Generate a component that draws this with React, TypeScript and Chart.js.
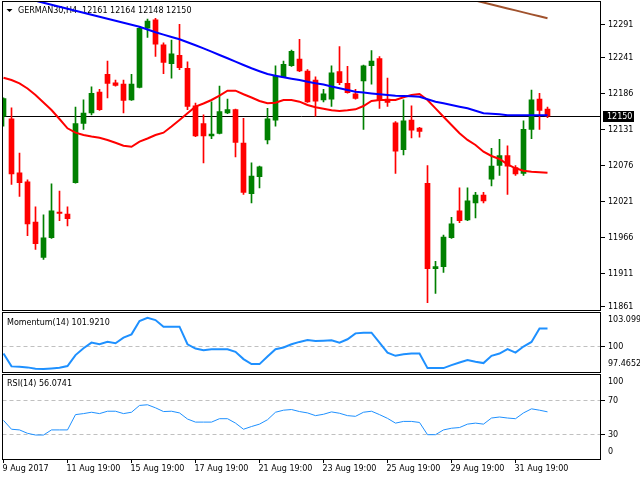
import React, { useEffect, useRef } from "react";
import { Chart, registerables } from "chart.js";

Chart.register(...registerables);

// ---------- data ----------
const OPEN = [12150, 12146, 12064, 12050, 11989, 11935, 11965, 12004, 12001, 12049, 12139, 12155, 12187, 12214, 12201, 12199, 12175, 12194, 12284, 12297, 12259, 12230, 12243, 12223, 12166, 12139, 12120, 12124, 12155, 12160, 12109, 12032, 12058, 12114, 12144, 12210, 12227, 12237, 12219, 12205, 12175, 12176, 12218, 12200, 12184, 12204, 12227, 12238, 12176, 12140, 12099, 12144, 12132, 12048, 11918, 11921, 11965, 12006, 11992, 12018, 12030, 12054, 12075, 12090, 12072, 12063, 12130, 12176, 12161];
const HIGH = [12178, 12163, 12094, 12053, 12012, 12000, 12047, 12036, 12012, 12164, 12175, 12195, 12191, 12234, 12205, 12205, 12214, 12286, 12298, 12299, 12262, 12266, 12290, 12233, 12170, 12152, 12172, 12196, 12176, 12161, 12147, 12079, 12074, 12162, 12227, 12234, 12251, 12267, 12221, 12210, 12191, 12227, 12256, 12226, 12191, 12228, 12250, 12241, 12208, 12142, 12175, 12166, 12133, 12075, 11929, 11969, 11996, 12041, 12041, 12034, 12034, 12101, 12115, 12105, 12075, 12143, 12190, 12185, 12164];
const LOW = [12135, 12046, 12028, 11968, 11947, 11932, 11964, 11991, 11983, 12048, 12130, 12152, 12159, 12178, 12196, 12155, 12174, 12193, 12270, 12241, 12215, 12208, 12221, 12160, 12119, 12079, 12116, 12123, 12154, 12088, 12031, 12018, 12041, 12108, 12135, 12209, 12226, 12218, 12171, 12150, 12172, 12165, 12198, 12185, 12176, 12130, 12199, 12162, 12165, 12063, 12091, 12117, 12118, 11866, 11880, 11912, 11964, 11988, 11991, 11995, 12018, 12044, 12060, 12031, 12060, 12060, 12116, 12130, 12148];
const CLOSE = [12177, 12062, 12049, 11986, 11956, 11965, 12006, 12002, 11994, 12139, 12155, 12185, 12160, 12200, 12197, 12174, 12199, 12284, 12295, 12260, 12232, 12245, 12224, 12165, 12120, 12120, 12123, 12157, 12160, 12110, 12034, 12059, 12073, 12146, 12211, 12229, 12249, 12219, 12172, 12173, 12184, 12216, 12201, 12186, 12177, 12227, 12234, 12175, 12171, 12097, 12143, 12129, 12127, 11918, 11921, 11966, 11986, 11991, 12021, 12030, 12021, 12074, 12090, 12074, 12062, 12130, 12175, 12159, 12150];

const MA_RED = [12208.7, 12205.2, 12200.2, 12192.3, 12182.4, 12171.0, 12159.5, 12145.8, 12131.7, 12125.0, 12121.5, 12119.2, 12117.4, 12113.9, 12109.7, 12105.2, 12103.6, 12111.3, 12116.1, 12121.5, 12125.0, 12134.4, 12144.3, 12154.5, 12164.6, 12169.4, 12174.8, 12181.6, 12189.0, 12189.0, 12183.5, 12178.6, 12173.3, 12169.8, 12170.7, 12174.8, 12174.8, 12172.2, 12167.2, 12163.7, 12161.5, 12159.1, 12158.0, 12159.1, 12160.6, 12165.6, 12173.3, 12174.8, 12174.8, 12174.8, 12178.9, 12182.4, 12183.9, 12174.8, 12162.1, 12149.3, 12136.7, 12124.1, 12113.9, 12106.2, 12096.0, 12089.5, 12084.9, 12076.8, 12070.7, 12067.1, 12065.6, 12064.7, 12064.0];
const MA_BLUE = [12338.2, 12335.2, 12332.1, 12329.1, 12326.0, 12323.0, 12319.9, 12316.9, 12313.8, 12310.8, 12307.8, 12304.7, 12301.7, 12298.6, 12295.6, 12292.5, 12289.5, 12286.4, 12282.2, 12277.9, 12274.4, 12270.7, 12267.2, 12262.7, 12258.1, 12253.5, 12248.5, 12243.3, 12238.3, 12233.3, 12228.1, 12223.1, 12218.6, 12214.4, 12211.8, 12209.4, 12207.2, 12205.2, 12202.7, 12200.2, 12198.4, 12195.3, 12192.6, 12190.0, 12187.4, 12186.2, 12184.8, 12183.5, 12182.4, 12181.3, 12180.9, 12180.3, 12179.8, 12176.0, 12172.2, 12169.8, 12167.2, 12164.6, 12162.1, 12158.3, 12154.5, 12153.8, 12153.0, 12151.5, 12151.5, 12151.5, 12151.5, 12151.5, 12151.5];
const MA_BROWN_START = 57;
const MA_BROWN = [12332.3, 12329.3, 12326.2, 12323.3, 12320.2, 12317.2, 12314.2, 12311.3, 12308.2, 12305.2, 12302.3, 12299.2];

const MOMENTUM = [99.17, 97.76, 97.72, 97.65, 97.5, 97.47, 97.54, 97.61, 97.8, 99.0, 99.75, 100.37, 100.2, 100.47, 100.3, 100.92, 101.28, 102.74, 103.1, 102.85, 102.12, 102.12, 102.12, 100.19, 99.72, 99.54, 99.65, 99.65, 99.65, 99.36, 98.56, 98.01, 98.01, 98.85, 99.65, 99.83, 100.19, 100.45, 100.66, 100.56, 100.59, 100.63, 100.37, 100.74, 101.39, 101.46, 101.46, 100.37, 99.28, 98.92, 99.1, 99.17, 99.17, 97.57, 97.57, 97.57, 97.9, 98.19, 98.45, 98.27, 98.12, 98.92, 99.17, 99.65, 99.28, 99.94, 100.45, 101.92, 101.92];
const RSI = [46, 35.6, 34.8, 30.8, 28.8, 28.8, 34.8, 34.8, 34.8, 52.8, 54, 55.6, 54, 56.8, 56.8, 54, 55.6, 63.6, 64.4, 60.8, 56.4, 56.8, 54.8, 47.6, 44, 44, 44, 48, 48, 42.8, 35.6, 38.8, 41.6, 46.8, 55.6, 58, 58.8, 56.4, 54.8, 51.6, 53.2, 56, 54.4, 51.6, 50.8, 55.6, 56.8, 52.8, 48.4, 42.8, 44.8, 44.8, 43.6, 29.2, 29.2, 34.8, 36.8, 37.6, 41.6, 42.8, 41.6, 48.8, 50, 48.8, 48, 54.8, 59.6, 58, 56.07];

const PRICE_TICKS = [12291, 12241, 12186, 12131, 12076, 12021, 11966, 11911, 11861];
const CURRENT_PRICE = 12150;
const TITLE = "GERMAN30,H4  12161 12164 12148 12150";
const MOM_TITLE = "Momentum(14) 101.9210";
const MOM_MAX_LABEL = "103.0996";
const MOM_MIN_LABEL = "97.4652";
const MOM_LEVEL = 100;
const RSI_TITLE = "RSI(14) 56.0741";
const RSI_LEVELS = [70, 30];
const TIME_LABELS = ["9 Aug 2017", "11 Aug 19:00", "15 Aug 19:00", "17 Aug 19:00", "21 Aug 19:00", "23 Aug 19:00", "25 Aug 19:00", "29 Aug 19:00", "31 Aug 19:00"];
const TIME_LABEL_INDEX = [0, 8, 16, 24, 32, 40, 48, 56, 64];

// ---------- styling ----------
const FONT = "8px 'DejaVu Sans'";
const BULL = "#008000";
const BEAR = "#ff0000";
const X_MIN = -0.125;
const X_MAX = 74.625;
const PAD_L = 2.5;
const PAD_R = 39.5;

const IDX = OPEN.map((_, i) => i);
const candleColors = IDX.map((i) => (CLOSE[i] >= OPEN[i] ? BULL : BEAR));

const baseOptions = (yMin: number, yMax: number, padTop: number, padBottom: number): any => ({
  responsive: false,
  animation: false,
  events: [],
  layout: { padding: { left: PAD_L, right: PAD_R, top: padTop, bottom: padBottom } },
  plugins: { legend: { display: false }, tooltip: { enabled: false }, title: { display: false } },
  scales: {
    x: { type: "linear", min: X_MIN, max: X_MAX, display: false, bounds: "data", offset: false },
    y: { type: "linear", min: yMin, max: yMax, display: false, bounds: "data" },
  },
});

function hLine(ctx: CanvasRenderingContext2D, x1: number, x2: number, y: number) {
  ctx.beginPath();
  ctx.moveTo(x1, y);
  ctx.lineTo(x2, y);
  ctx.stroke();
}

const mainDecor = {
  id: "mainDecor",
  beforeDatasetsDraw(chart: any) {
    const { ctx, chartArea: a, scales } = chart;
    ctx.save();
    ctx.strokeStyle = "#000";
    ctx.lineWidth = 1;
    const y = Math.round(scales.y.getPixelForValue(CURRENT_PRICE)) + 0.5;
    hLine(ctx, a.left, a.right, y);
    ctx.fillStyle = "#000";
    ctx.beginPath();
    ctx.moveTo(6.5, 9);
    ctx.lineTo(12.5, 9);
    ctx.lineTo(9.5, 12);
    ctx.closePath();
    ctx.fill();
    ctx.font = FONT;
    ctx.textBaseline = "middle";
    ctx.textAlign = "left";
    ctx.fillText(TITLE, 18, 10.5);
    ctx.restore();
  },
  afterDraw(chart: any) {
    const { ctx, scales } = chart;
    ctx.save();
    ctx.strokeStyle = "#000";
    ctx.lineWidth = 1;
    ctx.strokeRect(2.5, 1.5, 598, 309);
    ctx.font = FONT;
    ctx.textBaseline = "middle";
    ctx.textAlign = "left";
    ctx.fillStyle = "#000";
    for (const v of PRICE_TICKS) {
      const py = Math.round(scales.y.getPixelForValue(v)) + 0.5;
      hLine(ctx, 601, 605, py);
      ctx.fillText(String(v), 608, py);
    }
    const cy = Math.round(scales.y.getPixelForValue(CURRENT_PRICE)) + 0.5;
    ctx.fillRect(603, cy - 5.5, 31, 11);
    ctx.fillStyle = "#fff";
    ctx.fillText(String(CURRENT_PRICE), 607, cy);
    ctx.restore();
  },
};

const momDecor = {
  id: "momDecor",
  beforeDatasetsDraw(chart: any) {
    const { ctx, chartArea: a, scales } = chart;
    ctx.save();
    ctx.strokeStyle = "#c0c0c0";
    ctx.setLineDash([4, 3]);
    hLine(ctx, a.left, a.right, Math.round(scales.y.getPixelForValue(MOM_LEVEL)) + 0.5);
    ctx.restore();
  },
  afterDraw(chart: any) {
    const { ctx, scales } = chart;
    ctx.save();
    ctx.strokeStyle = "#000";
    ctx.lineWidth = 1;
    ctx.strokeRect(2.5, 312.5, 598, 60);
    ctx.font = FONT;
    ctx.textBaseline = "middle";
    ctx.textAlign = "left";
    ctx.fillStyle = "#000";
    ctx.fillText(MOM_TITLE, 7, 322.5);
    const py = Math.round(scales.y.getPixelForValue(MOM_LEVEL)) + 0.5;
    hLine(ctx, 601, 605, py);
    ctx.fillText(String(MOM_LEVEL), 608, py);
    ctx.fillText(MOM_MAX_LABEL, 608, 320);
    ctx.fillText(MOM_MIN_LABEL, 608, 364);
    ctx.restore();
  },
};

const rsiDecor = {
  id: "rsiDecor",
  beforeDatasetsDraw(chart: any) {
    const { ctx, chartArea: a, scales } = chart;
    ctx.save();
    ctx.strokeStyle = "#c0c0c0";
    ctx.setLineDash([4, 3]);
    for (const lv of RSI_LEVELS) hLine(ctx, a.left, a.right, Math.round(scales.y.getPixelForValue(lv)) + 0.5);
    ctx.restore();
  },
  afterDraw(chart: any) {
    const { ctx, scales } = chart;
    ctx.save();
    ctx.strokeStyle = "#000";
    ctx.lineWidth = 1;
    ctx.strokeRect(2.5, 374.5, 598, 85);
    ctx.font = FONT;
    ctx.textBaseline = "middle";
    ctx.textAlign = "left";
    ctx.fillStyle = "#000";
    ctx.fillText(RSI_TITLE, 7, 384);
    for (const lv of RSI_LEVELS) {
      const py = Math.round(scales.y.getPixelForValue(lv)) + 0.5;
      hLine(ctx, 601, 605, py);
      ctx.fillText(String(lv), 608, py);
    }
    ctx.fillText("100", 608, 381.5);
    ctx.fillText("0", 608, 452);
    TIME_LABEL_INDEX.forEach((idx, k) => {
      const px = Math.round(scales.x.getPixelForValue(idx) - 0.5) + 0.5;
      ctx.beginPath();
      ctx.moveTo(px, 460);
      ctx.lineTo(px, 463);
      ctx.stroke();
      ctx.fillText(TIME_LABELS[k], px - 1, 469);
    });
    ctx.restore();
  },
};

function mainConfig(): any {
  const opts = baseOptions(11854.9, 12324.05, 2, 170);
  return {
    type: "bar",
    data: {
      datasets: [
        {
          type: "line",
          data: MA_BROWN.map((v, k) => ({ x: MA_BROWN_START + k, y: v })),
          borderColor: "#a0522d",
          borderWidth: 2,
          pointRadius: 0,
          tension: 0,
          order: 1,
        },
        {
          type: "line",
          data: MA_BLUE.map((v, i) => ({ x: i, y: v })),
          borderColor: "#0000ff",
          borderWidth: 2,
          pointRadius: 0,
          tension: 0,
          order: 1,
        },
        {
          type: "line",
          data: MA_RED.map((v, i) => ({ x: i, y: v })),
          borderColor: "#ff0000",
          borderWidth: 2,
          pointRadius: 0,
          tension: 0,
          order: 1,
        },
        {
          type: "bar",
          data: IDX.map((i) => ({ x: i, y: [OPEN[i], CLOSE[i]] })),
          backgroundColor: candleColors,
          barThickness: 5,
          minBarLength: 1,
          grouped: false,
          order: 2,
        },
        {
          type: "bar",
          data: IDX.map((i) => ({ x: i, y: [LOW[i], HIGH[i]] })),
          backgroundColor: candleColors,
          barThickness: 1,
          grouped: false,
          order: 3,
        },
      ],
    },
    options: opts,
    plugins: [mainDecor],
  };
}

function momConfig(): any {
  return {
    type: "line",
    data: {
      datasets: [
        {
          data: MOMENTUM.map((v, i) => ({ x: i, y: v })),
          borderColor: "#1e90ff",
          borderWidth: 2,
          pointRadius: 0,
          tension: 0,
        },
      ],
    },
    options: baseOptions(97.143, 103.626, 313, 108),
    plugins: [momDecor],
  };
}

function rsiConfig(): any {
  return {
    type: "line",
    data: {
      datasets: [
        {
          data: RSI.map((v, i) => ({ x: i, y: v })),
          borderColor: "#1e90ff",
          borderWidth: 1,
          pointRadius: 0,
          tension: 0,
        },
      ],
    },
    options: baseOptions(0, 100, 374.5, 20.5),
    plugins: [rsiDecor],
  };
}

export default function App() {
  const r1 = useRef<HTMLCanvasElement>(null);
  const r2 = useRef<HTMLCanvasElement>(null);
  const r3 = useRef<HTMLCanvasElement>(null);

  useEffect(() => {
    const c1 = new Chart(r1.current as HTMLCanvasElement, mainConfig());
    const c2 = new Chart(r2.current as HTMLCanvasElement, momConfig());
    const c3 = new Chart(r3.current as HTMLCanvasElement, rsiConfig());
    return () => {
      c1.destroy();
      c2.destroy();
      c3.destroy();
    };
  }, []);

  const cs: React.CSSProperties = { position: "absolute", left: 0, top: 0, width: 640, height: 480 };
  return (
    <div style={{ position: "absolute", left: 0, top: 0, width: 640, height: 480, background: "#fff", overflow: "hidden" }}>
      <canvas ref={r1} width={640} height={480} style={cs} />
      <canvas ref={r2} width={640} height={480} style={cs} />
      <canvas ref={r3} width={640} height={480} style={cs} />
    </div>
  );
}
